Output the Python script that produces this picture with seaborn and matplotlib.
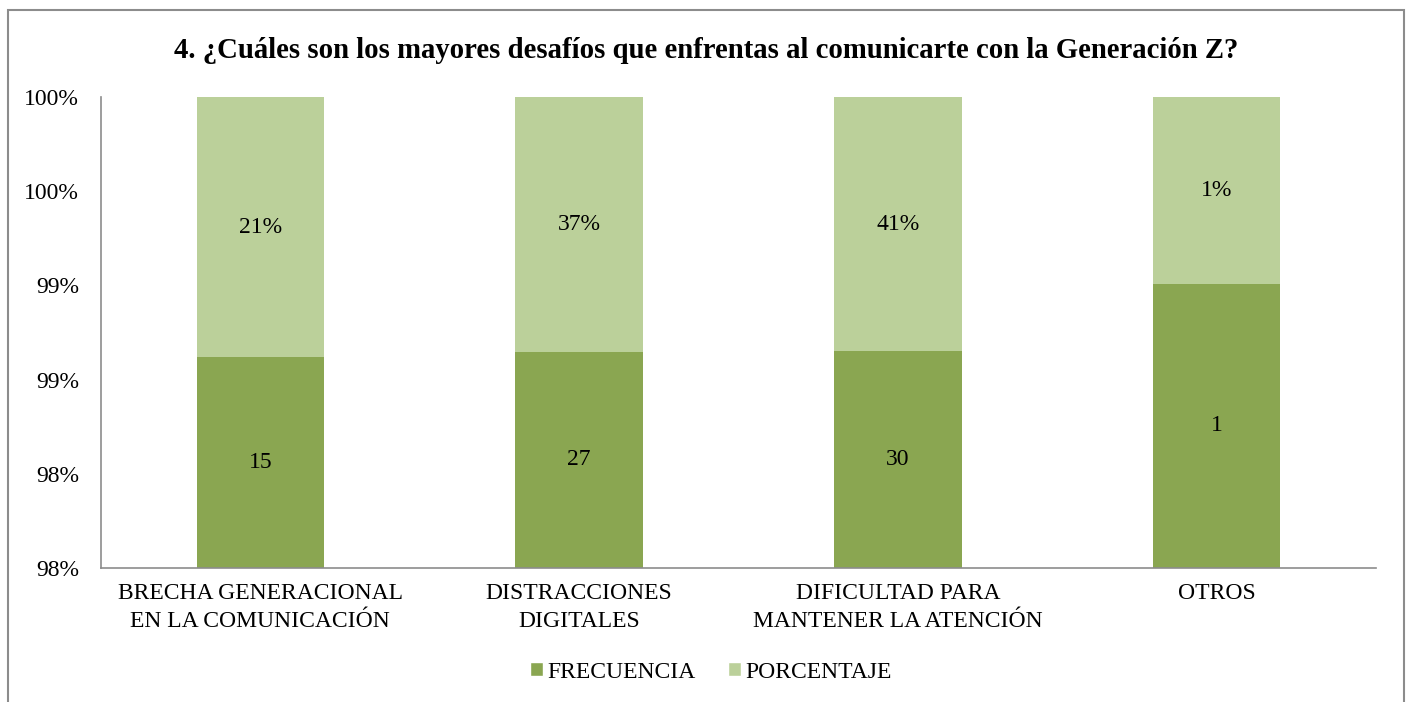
import math
import matplotlib
matplotlib.use("Agg")
import matplotlib.pyplot as plt
from matplotlib.patches import Rectangle, Patch
from matplotlib.ticker import FuncFormatter, FixedLocator
import seaborn as sns
import numpy as np

categories = ["BRECHA GENERACIONAL\nEN LA COMUNICACIÓN", "DISTRACCIONES\nDIGITALES",
              "DIFICULTAD PARA\nMANTENER LA ATENCIÓN", "OTROS"]
frecuencia = [15, 27, 30, 1]
porcentaje = [0.21, 0.37, 0.41, 0.01]
pct_labels = ["21%", "37%", "41%", "1%"]
title = "4. ¿Cuáles son los mayores desafíos que enfrentas al comunicarte con la Generación Z?"

dark = "#8AA651"
light = "#BBD09A"

sns.set_theme(style="white")
plt.rcParams['font.family'] = ['Liberation Serif', 'DejaVu Serif']
plt.rcParams['text.color'] = 'black'

W, H = 1410, 702
fig = plt.figure(figsize=(W / 100, H / 100), dpi=100)
fig.patch.set_facecolor("white")

# outer border
fig.add_artist(Rectangle((8 / W, -0.05), (1404 - 8) / W, 1.05 - 10 / H,
                         transform=fig.transFigure, fill=False, edgecolor="#8c8c8c", lw=1.5))

L, R, T, B = 101, 1376, 97, 568
ax = fig.add_axes([L / W, 1 - B / H, (R - L) / W, (B - T) / H])

totals = [f + p for f, p in zip(frecuencia, porcentaje)]
frac_freq = [f / t for f, t in zip(frecuencia, totals)]
frac_tot = [1.0 for _ in totals]

x = list(range(len(categories)))
sns.barplot(x=x, y=frac_tot, color=light, width=0.4, ax=ax, saturation=1, linewidth=0)
sns.barplot(x=x, y=frac_freq, color=dark, width=0.4, ax=ax, saturation=1, linewidth=0)

ymin = 0.975
ax.set_ylim(ymin, 1.0)
ax.set_xlim(-0.5, 3.5)
ax.yaxis.set_major_locator(FixedLocator([0.975, 0.98, 0.985, 0.99, 0.995, 1.0]))
ax.yaxis.set_major_formatter(FuncFormatter(lambda v, p: f"{math.floor(v * 100 + 0.5 + 1e-9):d}%"))
ax.set_xticks(x)
ax.set_xticklabels(categories, fontsize=17, linespacing=1.42)
ax.tick_params(axis="both", length=0, labelsize=17, colors="black")
ax.tick_params(axis="y", pad=16)
ax.tick_params(axis="x", pad=11)

for s in ["top", "right"]:
    ax.spines[s].set_visible(False)
for s in ["left", "bottom"]:
    ax.spines[s].set_color("#8c8c8c")
    ax.spines[s].set_linewidth(1.2)

for i in x:
    ax.text(i, (ymin + frac_freq[i]) / 2, str(frecuencia[i]),
            ha="center", va="center", fontsize=17, color="black")
    ax.text(i, (frac_freq[i] + 1.0) / 2, pct_labels[i], ha="center", va="center", fontsize=17, color="black")

fig.text(706 / W, 1 - 51 / H, title, ha="center", va="center", fontsize=20.7, fontweight="bold", color="black")

handles = [Patch(facecolor=dark, label="FRECUENCIA"), Patch(facecolor=light, label="PORCENTAJE")]
fig.legend(handles=handles, loc="center", bbox_to_anchor=(711 / W, 1 - 672 / H), ncol=2, frameon=False,
           fontsize=17, handlelength=0.55, handleheight=0.55, handletextpad=0.2, columnspacing=1.35,
           labelcolor="black")

fig.savefig("out.png", dpi=100)
